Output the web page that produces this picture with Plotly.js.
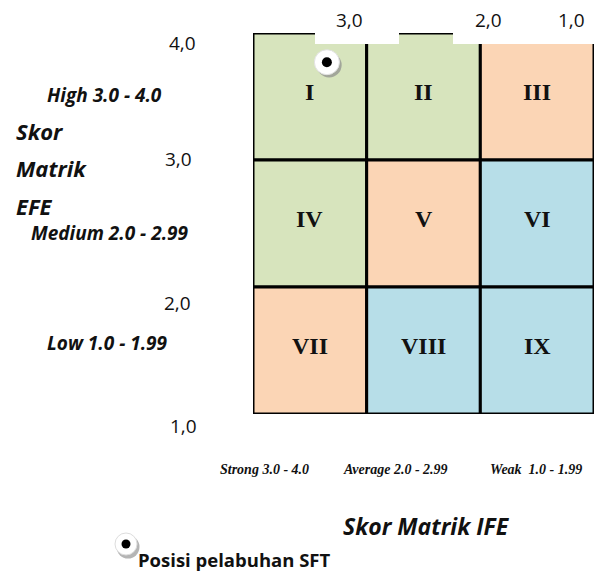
<!DOCTYPE html>
<html>
<head>
<meta charset="utf-8">
<script src="https://cdn.plot.ly/plotly-3.0.1.min.js"></script>
<style>html,body{margin:0;padding:0;background:#fff;}#chart{width:595px;height:573px;}</style>
</head>
<body>
<div id="chart"></div>
<script>
// ---- data ----
const ifeEdges = [4.0, 3.0, 2.0, 1.0];          // IFE score boundaries (x)
const efeEdges = [4.0, 3.0, 2.0, 1.0];          // EFE score boundaries (y)
const cellLabels = [["I","II","III"],["IV","V","VI"],["VII","VIII","IX"]];
const cellGroups = [["grow","grow","hold"],["grow","hold","harvest"],["hold","harvest","harvest"]];
const xTickLabels = ["3,0","2,0","1,0"];
const yTickLabels = ["4,0","3,0","2,0","1,0"];
const efeBands = ["High 3.0 - 4.0","Medium 2.0 - 2.99","Low 1.0 - 1.99"];
const ifeBands = ["Strong 3.0 - 4.0","Average 2.0 - 2.99","Weak  1.0 - 1.99"];
const efeTitle = ["Skor","Matrik","EFE"];
const ifeTitle = "Skor Matrik IFE";
const pointName = "Posisi pelabuhan SFT";
const pointIFE = [3.35];
const pointEFE = [3.77];

// ---- styling ----
const W = 595, H = 573;
const M = {l: 253, r: 1, t: 33, b: 159};
const PW = W - M.l - M.r, PH = H - M.t - M.b;
const px = v => (v - M.l) / PW;          // pixel -> paper x
const py = v => (H - M.b - v) / PH;      // pixel -> paper y
const groupColor = {grow: "#D7E4BD", hold: "#FBD5B5", harvest: "#B7DEE8"};
const sansFont = "Open Sans, Noto Sans, sans-serif";
const serifFont = "Liberation Serif, Times New Roman, serif";

const shapes = [];
const annotations = [];

for (let r = 0; r < 3; r++) {
  for (let c = 0; c < 3; c++) {
    shapes.push({type: "rect", xref: "x", yref: "y", layer: "below",
      x0: ifeEdges[c], x1: ifeEdges[c + 1], y0: efeEdges[r], y1: efeEdges[r + 1],
      fillcolor: groupColor[cellGroups[r][c]], line: {color: "#000", width: 3}});
    annotations.push({xref: "x", yref: "y", showarrow: false,
      x: (ifeEdges[c] + ifeEdges[c + 1]) / 2, y: (efeEdges[r] + efeEdges[r + 1]) / 2, yshift: 5,
      text: "<b>" + cellLabels[r][c] + "</b>", font: {family: serifFont, size: 24, color: "#111"}});
  }
}

// white boxes behind the top tick labels (cover the top border as in the original)
shapes.push({type: "rect", xref: "paper", yref: "paper", layer: "above",
  x0: px(315), x1: px(399), y0: py(44), y1: py(-2), fillcolor: "#fff", line: {width: 0}});
shapes.push({type: "rect", xref: "paper", yref: "paper", layer: "above",
  x0: px(453), x1: px(598), y0: py(44), y1: py(-2), fillcolor: "#fff", line: {width: 0}});

// legend glyph
const lgx = 126, lgy = 544;
function circ(cx, cy, rad, fill, line) {
  shapes.push({type: "circle", xref: "paper", yref: "paper", layer: "above",
    x0: px(cx - rad), x1: px(cx + rad), y0: py(cy + rad), y1: py(cy - rad),
    fillcolor: fill, line: line || {width: 0}});
}
circ(lgx + 2, lgy + 3, 11.5, "rgba(150,150,150,0.7)");
circ(lgx, lgy, 11, "#fff", {color: "#ddd", width: 1});
circ(lgx, lgy, 4.5, "#000");

function txt(text, x, y, size, opts) {
  annotations.push(Object.assign({xref: "paper", yref: "paper", x: px(x), y: py(y),
    xanchor: "center", yanchor: "middle", showarrow: false, text: text,
    font: {family: sansFont, size: size, color: "#111"}}, opts || {}));
}
// y ticks
const yTickPos = [[182, 43], [178, 159], [177, 303], [183, 426]];
yTickLabels.forEach((t, i) => txt(t, yTickPos[i][0], yTickPos[i][1], 19));
// x ticks
const xTickPos = [[349, 20], [488, 20], [571, 20]];
xTickLabels.forEach((t, i) => txt(t, xTickPos[i][0], xTickPos[i][1], 19));
// EFE bands
const efeBandPos = [[104, 95], [110, 233], [107, 343]];
efeBands.forEach((t, i) => txt("<b><i>" + t + "</i></b>", efeBandPos[i][0], efeBandPos[i][1], 19));
// EFE title
const efeTitlePos = [131, 168, 206];
efeTitle.forEach((t, i) => txt("<b><i>" + t + "</i></b>", 14, efeTitlePos[i], 22, {xanchor: "left"}));
// IFE bands
const ifeBandPos = [264, 395, 536];
ifeBands.forEach((t, i) => txt("<b><i>" + t + "</i></b>", ifeBandPos[i], 469, 14,
  {font: {family: serifFont, size: 14, color: "#111"}}));
// IFE title
txt("<b><i>" + ifeTitle + "</i></b>", 426, 526, 23);
// legend text
txt("<b>" + pointName + "</b>", 136, 559, 18.5, {xanchor: "left"});

const dx = 0.02, dy = 0.022;
const traces = [
  {type: "scatter", mode: "markers", x: pointIFE.map(v => v - dx), y: pointEFE.map(v => v - dy),
   marker: {size: 25, color: "rgba(140,140,140,0.7)"}, hoverinfo: "skip", showlegend: false},
  {type: "scatter", mode: "markers", x: pointIFE, y: pointEFE, name: pointName,
   marker: {size: 25, color: "#fff", line: {color: "#e2e2e2", width: 1}}, showlegend: false},
  {type: "scatter", mode: "markers", x: pointIFE, y: pointEFE,
   marker: {size: 10, color: "#000"}, hoverinfo: "skip", showlegend: false}
];

const layout = {
  width: W, height: H, margin: M,
  paper_bgcolor: "#fff", plot_bgcolor: "#fff",
  showlegend: false,
  xaxis: {range: [ifeEdges[0], ifeEdges[3]], visible: false, fixedrange: true},
  yaxis: {range: [efeEdges[3], efeEdges[0]], visible: false, fixedrange: true},
  shapes: shapes, annotations: annotations
};
Plotly.newPlot("chart", traces, layout, {displayModeBar: false, staticPlot: true});
</script>
</body>
</html>
